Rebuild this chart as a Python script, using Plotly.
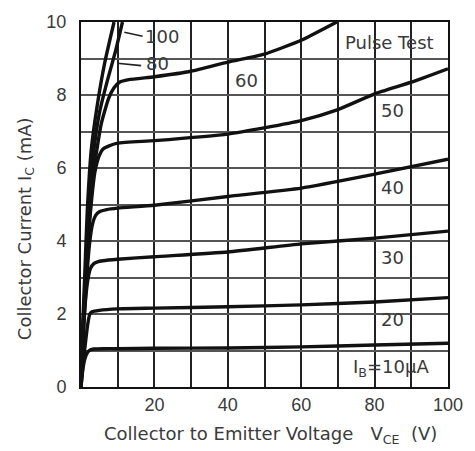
import plotly.graph_objects as go

# Collector-emitter voltage (V) and collector current (mA) for each base current
v_10 = [0, 0.4, 1, 1.8, 2.6, 3.5, 6, 10, 20, 40, 60, 80, 100]
i_10 = [0, 0.4, 0.75, 0.95, 1.02, 1.04, 1.05, 1.05, 1.06, 1.07, 1.1, 1.15, 1.2]

v_20 = [0, 0.5, 1.2, 1.8, 2.4, 3, 5, 10, 20, 40, 60, 80, 100]
i_20 = [0, 0.6, 1.2, 1.7, 2.0, 2.06, 2.1, 2.14, 2.16, 2.2, 2.25, 2.33, 2.45]

v_30 = [0, 0.4, 1.0, 1.8, 2.6, 3.5, 4.5, 6, 10, 20, 40, 60, 80, 100]
i_30 = [0, 1, 2.1, 2.9, 3.25, 3.38, 3.43, 3.46, 3.5, 3.57, 3.7, 3.92, 4.08, 4.27]

v_40 = [0, 0.5, 1.3, 2.3, 3.1, 4, 5, 7, 10, 20, 40, 60, 80, 100]
i_40 = [0, 1.2, 2.6, 3.9, 4.45, 4.7, 4.8, 4.86, 4.9, 4.98, 5.22, 5.45, 5.83, 6.24]

v_50 = [0, 0.5, 1.3, 2.4, 3.8, 5.0, 6.0, 7.5, 10, 20, 40, 60, 70, 80, 90, 100]
i_50 = [0, 1.5, 3, 4.6, 5.9, 6.35, 6.52, 6.6, 6.68, 6.75, 6.93, 7.3, 7.6, 8.03, 8.35, 8.72]

v_60 = [0, 0.5, 1.3, 2.3, 3.6, 5.5, 7.5, 9, 10.5, 13, 20, 30, 40, 50, 60, 69.7]
i_60 = [0, 1.5, 3, 4.6, 6.0, 7.2, 7.9, 8.2, 8.35, 8.42, 8.5, 8.65, 8.9, 9.12, 9.5, 10]

v_80 = [0, 0.5, 1.2, 2.1, 3.3, 5.0, 7.2, 9.4, 11.3]
i_80 = [0, 1.5, 3, 4.8, 6.3, 7.5, 8.4, 9.2, 10]

v_100 = [0, 0.4, 1.0, 1.7, 2.8, 4.4, 6.5, 9.0]
i_100 = [0, 1.5, 3, 4.8, 6.5, 7.7, 8.9, 10]

x_ticks = [0, 10, 20, 30, 40, 50, 60, 70, 80, 90, 100]
x_tick_text = ["", "", "20", "", "40", "", "60", "", "80", "", "100"]
y_ticks = [0, 1, 2, 3, 4, 5, 6, 7, 8, 9, 10]
y_tick_text = ["0", "", "2", "", "4", "", "6", "", "8", "", "10"]

curves = [
    (v_10, i_10), (v_20, i_20), (v_30, i_30), (v_40, i_40),
    (v_50, i_50), (v_60, i_60), (v_80, i_80), (v_100, i_100),
]

TICKFONT = "Liberation Sans, Arial, sans-serif"
FONT = "DejaVu Sans, sans-serif"
TXT = "#3a3a3a"

fig = go.Figure()
for vx, iy in curves:
    fig.add_trace(go.Scatter(
        x=vx, y=iy, mode="lines",
        line=dict(color="#111111", width=3.4, shape="spline", smoothing=0.5),
        showlegend=False, hoverinfo="skip",
    ))

labels = [
    (45, 8.41, "60"),
    (85, 7.58, "50"),
    (85, 5.46, "40"),
    (85, 3.55, "30"),
    (85, 1.85, "20"),
    (84.5, 0.51, "I<sub>B</sub>=10µA"),
    (84, 9.45, "Pulse Test"),
    (22.2, 9.6, "100"),
    (20.9, 8.87, "80"),
]
annotations = []
for x, y, t in labels:
    annotations.append(dict(x=x, y=y, text=t, showarrow=False,
                            font=dict(family=FONT, size=18, color=TXT)))

# leader lines for the 100 and 80 labels
leaders = [((11.8, 9.72), (17.2, 9.6)), ((9.9, 8.87), (16.8, 8.8))]
for (x0, y0), (x1, y1) in leaders:
    annotations.append(dict(x=x0, y=y0, ax=x1, ay=y1, axref="x", ayref="y",
                            text="", showarrow=True, arrowhead=0,
                            arrowwidth=1.6, arrowcolor="#222"))

# axis titles
annotations.append(dict(xref="paper", yref="paper", x=0.516, y=-0.132,
                        text="Collector to Emitter Voltage   V<sub>CE</sub>  (V)",
                        showarrow=False, xanchor="center", yanchor="middle",
                        font=dict(family=FONT, size=18, color=TXT)))
annotations.append(dict(xref="paper", yref="paper", x=-0.15, y=0.435,
                        text="Collector Current I<sub>C</sub> (mA)", textangle=-90,
                        showarrow=False, xanchor="center", yanchor="middle",
                        font=dict(family=FONT, size=18, color=TXT)))

fig.update_layout(
    width=475, height=451,
    margin=dict(l=81, r=20, t=15, b=64),
    paper_bgcolor="white", plot_bgcolor="white",
    annotations=annotations,
    font=dict(family=TICKFONT, size=18, color=TXT),
)
fig.update_xaxes(
    range=[0, 100], tickvals=x_ticks, ticktext=x_tick_text,
    showgrid=True, gridcolor="#222222", gridwidth=1.6,
    showline=True, linecolor="#111111", linewidth=2, mirror=True,
    ticks="outside", ticklen=0, tickcolor="rgba(0,0,0,0)",
    zeroline=False,
)
fig.update_yaxes(
    range=[0, 10], tickvals=y_ticks, ticktext=y_tick_text,
    showgrid=True, gridcolor="#555555", gridwidth=1.6,
    showline=True, linecolor="#111111", linewidth=2, mirror=True,
    ticks="outside", ticklen=9, tickcolor="rgba(0,0,0,0)",
    zeroline=False,
)

fig.write_html("out.html")
